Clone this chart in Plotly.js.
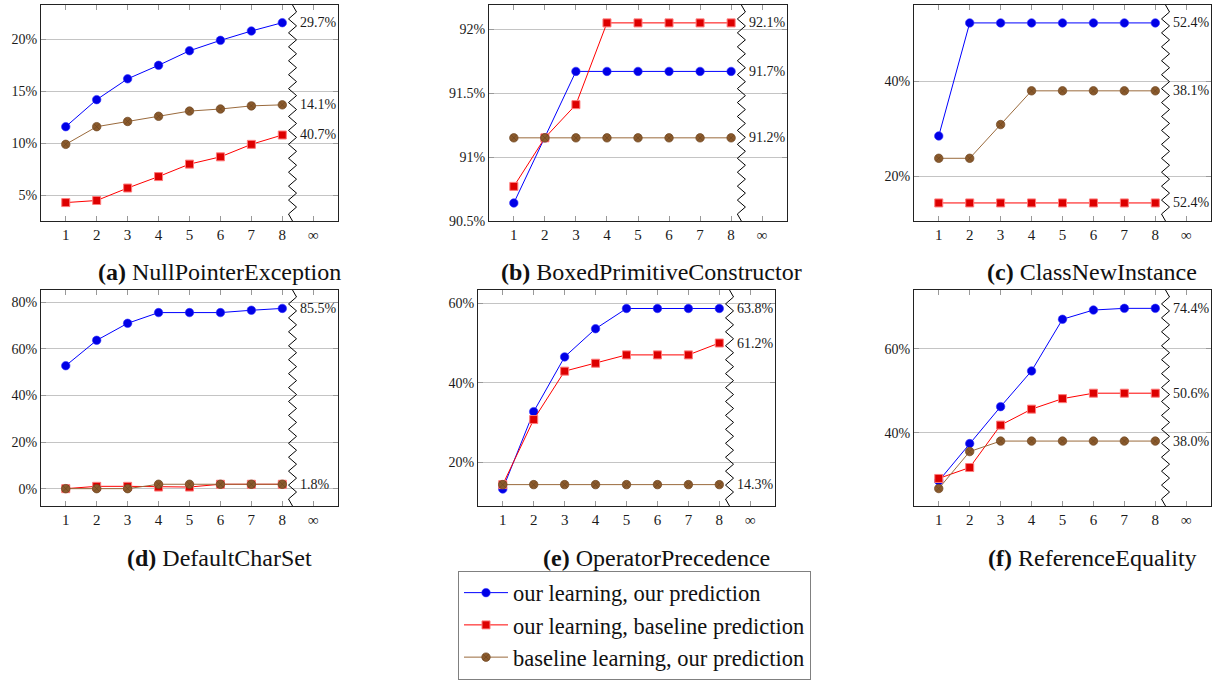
<!DOCTYPE html>
<html>
<head>
<meta charset="utf-8">
<script src="https://cdn.plot.ly/plotly-3.0.1.min.js"></script>
<style>html,body{margin:0;padding:0;background:#fff;}#chart{width:1212px;height:681px;}</style>
</head>
<body>
<div id="chart"></div>
<script>
// ---------- data ----------
const steps = [1, 2, 3, 4, 5, 6, 7, 8];
const xTickVals = [1, 2, 3, 4, 5, 6, 7, 8, 9];
const xTickText = ['1', '2', '3', '4', '5', '6', '7', '8', '∞'];
const seriesNames = ['our learning, our prediction', 'our learning, baseline prediction', 'baseline learning, our prediction'];
const captionLetters = ['(a)', '(b)', '(c)', '(d)', '(e)', '(f)'];
const captionNames = ['NullPointerException', 'BoxedPrimitiveConstructor', 'ClassNewInstance', 'DefaultCharSet', 'OperatorPrecedence', 'ReferenceEquality'];

// (a) NullPointerException
const npeOurOur  = [11.6, 14.2, 16.2, 17.5, 18.9, 19.9, 20.8, 21.6];
const npeOurBase = [4.3, 4.5, 5.7, 6.8, 8.0, 8.7, 9.9, 10.8];
const npeBaseOur = [9.9, 11.6, 12.1, 12.6, 13.1, 13.3, 13.6, 13.7];
const npeInf = ['29.7%', '40.7%', '14.1%'];
// (b) BoxedPrimitiveConstructor
const bpcOurOur  = [90.64, 91.15, 91.67, 91.67, 91.67, 91.67, 91.67, 91.67];
const bpcOurBase = [90.77, 91.15, 91.41, 92.05, 92.05, 92.05, 92.05, 92.05];
const bpcBaseOur = [91.15, 91.15, 91.15, 91.15, 91.15, 91.15, 91.15, 91.15];
const bpcInf = ['91.7%', '92.1%', '91.2%'];
// (c) ClassNewInstance
const cniOurOur  = [28.5, 52.3, 52.3, 52.3, 52.3, 52.3, 52.3, 52.3];
const cniOurBase = [14.4, 14.4, 14.4, 14.4, 14.4, 14.4, 14.4, 14.4];
const cniBaseOur = [23.8, 23.8, 30.9, 38.0, 38.0, 38.0, 38.0, 38.0];
const cniInf = ['52.4%', '52.4%', '38.1%'];
// (d) DefaultCharSet
const dcsOurOur  = [52.8, 63.7, 71.0, 75.6, 75.6, 75.6, 76.6, 77.4];
const dcsOurBase = [0.0, 1.0, 1.0, 0.7, 0.7, 1.9, 1.9, 1.9];
const dcsBaseOur = [0.0, 0.0, 0.0, 1.9, 1.9, 1.9, 1.9, 1.9];
const dcsInf = ['85.5%', null, '1.8%'];
// (e) OperatorPrecedence
const opOurOur  = [13.2, 32.7, 46.5, 53.6, 58.7, 58.7, 58.7, 58.7];
const opOurBase = [14.3, 30.7, 42.9, 44.9, 47.0, 47.0, 47.0, 50.0];
const opBaseOur = [14.3, 14.3, 14.3, 14.3, 14.3, 14.3, 14.3, 14.3];
const opInf = ['63.8%', '61.2%', '14.3%'];
// (f) ReferenceEquality
const reOurOur  = [28.5, 37.4, 46.2, 54.7, 67.0, 69.2, 69.6, 69.6];
const reOurBase = [29.1, 31.7, 41.8, 45.6, 48.1, 49.4, 49.4, 49.4];
const reBaseOur = [26.7, 35.5, 38.0, 38.0, 38.0, 38.0, 38.0, 38.0];
const reInf = ['74.4%', '50.6%', '38.0%'];

const panelSeries = [
  [npeOurOur, npeOurBase, npeBaseOur],
  [bpcOurOur, bpcOurBase, bpcBaseOur],
  [cniOurOur, cniOurBase, cniBaseOur],
  [dcsOurOur, dcsOurBase, dcsBaseOur],
  [opOurOur, opOurBase, opBaseOur],
  [reOurOur, reOurBase, reBaseOur]
];
const panelInf = [npeInf, bpcInf, cniInf, dcsInf, opInf, reInf];

// ---------- layout / style ----------
const W = 1212, H = 681;
const FONT = '"Liberation Serif", "DejaVu Serif", serif';
const boxes = [ // pixel boxes [x0,x1,y0,y1]
  [41, 338, 5, 221], [489, 787, 5, 221], [914, 1211, 5, 221],
  [41, 338, 290, 506], [478, 775, 290, 506], [914, 1211, 290, 506]
];
const yRanges = [[2.53, 23.3], [90.499, 92.19], [10.6, 56.07], [-7.44, 85.3], [8.91, 63.36], [22.54, 73.97]];
const yDticks = [5, 0.5, 20, 20, 20, 20];
const captionPos = [[219, 272], [651, 272], [1092, 272], [219, 558], [656, 558], [1092, 558]];
const styles = [
  {line: '#0000ff', marker: {symbol: 'circle', size: 8.5, color: '#0000e6', line: {color: '#3030ff', width: 0.6}}},
  {line: '#ff0000', marker: {symbol: 'square', size: 8, color: '#dd0000', line: {color: '#ff7a7a', width: 1}}},
  {line: '#9a6a3c', marker: {symbol: 'circle-x', size: 8.5, color: '#8a5a2c', line: {color: '#6e4622', width: 0.7}}}
];
const breakX = 8.33;

const data = [];
const layout = {
  width: W, height: H,
  margin: {l: 0, r: 0, t: 0, b: 0, autoexpand: false},
  paper_bgcolor: '#fff', plot_bgcolor: '#fff',
  font: {family: FONT, color: '#1a1a1a', size: 14},
  showlegend: true,
  legend: {
    x: 458 / W, y: 1 - 679.5 / H, xanchor: 'left', yanchor: 'bottom',
    bordercolor: '#808080', borderwidth: 1,
    font: {family: FONT, size: 22.5, color: '#111'},
    itemwidth: 44, tracegroupgap: 0, bgcolor: '#fff'
  },
  annotations: [], shapes: []
};

boxes.forEach((b, i) => {
  const n = i + 1;
  const xa = 'xaxis' + (n === 1 ? '' : n), ya = 'yaxis' + (n === 1 ? '' : n);
  const xr = 'x' + (n === 1 ? '' : n), yr = 'y' + (n === 1 ? '' : n);
  layout[xa] = {
    domain: [b[0] / W, b[1] / W], anchor: yr, range: [0.2, 9.8],
    tickmode: 'array', tickvals: xTickVals, ticktext: xTickText,
    ticks: 'inside', ticklen: 5, tickcolor: '#999', tickwidth: 1,
    showline: true, linecolor: '#222', linewidth: 1, mirror: 'ticks',
    showgrid: false, zeroline: false, fixedrange: true,
    tickfont: {family: FONT, size: 15, color: '#1a1a1a'}
  };
  layout[ya] = {
    domain: [1 - b[3] / H, 1 - b[2] / H], anchor: xr, range: yRanges[i],
    tick0: 0, dtick: yDticks[i], ticksuffix: '%',
    ticks: 'inside', ticklen: 5, tickcolor: '#999', tickwidth: 1,
    showline: true, linecolor: '#222', linewidth: 1, mirror: 'ticks',
    showgrid: true, gridcolor: '#c4c4c4', gridwidth: 1, zeroline: false, fixedrange: true,
    tickfont: {family: FONT, size: 14, color: '#1a1a1a'}
  };
  panelSeries[i].forEach((vals, s) => {
    data.push({
      type: 'scatter', mode: 'lines+markers', x: steps, y: vals,
      xaxis: xr, yaxis: yr, name: seriesNames[s], legendgroup: 's' + s,
      showlegend: i === 0, cliponaxis: false,
      line: {color: styles[s].line, width: 1},
      marker: styles[s].marker
    });
  });
  // zigzag axis break
  const yr0 = yRanges[i][0], yr1 = yRanges[i][1];
  const nSeg = 31, amp = 0.13;
  let path = 'M ' + breakX + ' ' + yr0;
  for (let k = 1; k <= nSeg; k++) {
    const yy = yr0 + (yr1 - yr0) * k / nSeg;
    const xx = (k === nSeg) ? breakX : breakX + (k % 2 ? -amp : amp);
    path += ' L ' + xx + ' ' + yy;
  }
  layout.shapes.push({type: 'path', xref: xr, yref: yr, path: path, line: {color: '#000', width: 1}, layer: 'above'});
  // end labels
  panelInf[i].forEach((txt, s) => {
    if (!txt) return;
    const vals = panelSeries[i][s];
    layout.annotations.push({
      xref: xr, yref: yr, x: 8.5, y: vals[vals.length - 1], text: txt,
      showarrow: false, xanchor: 'left', yanchor: 'middle',
      font: {family: FONT, size: 14, color: '#1a1a1a'}
    });
  });
  // caption
  layout.annotations.push({
    xref: 'paper', yref: 'paper', x: captionPos[i][0] / W, y: 1 - captionPos[i][1] / H,
    text: '<b>' + captionLetters[i] + '</b> ' + captionNames[i],
    showarrow: false, xanchor: 'center', yanchor: 'middle',
    font: {family: FONT, size: 24, color: '#111'}
  });
});

Plotly.newPlot('chart', data, layout, {staticPlot: true, displayModeBar: false});
</script>
</body>
</html>
